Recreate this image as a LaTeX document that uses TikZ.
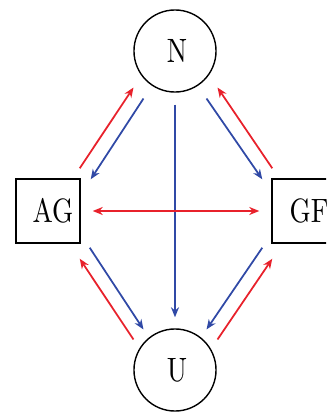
\documentclass[tikz,border=0pt]{standalone}
\usepackage{tikz}
\usetikzlibrary{arrows.meta}
\definecolor{fwd}{HTML}{3049A6}
\definecolor{back}{HTML}{E8212B}
\newcommand{\lbl}[1]{\scalebox{0.8}[1]{#1}}

\begin{document}
\begin{tikzpicture}[x=0.01cm,y=-0.01cm,
    state/.style={draw,circle,minimum size=0.82cm,inner sep=0pt,font=\fontsize{9.6}{12}\selectfont},
    agent/.style={draw,rectangle,minimum size=0.64cm,inner sep=0pt,font=\fontsize{9.6}{12}\selectfont},
    bluearr/.style={fwd,line width=0.5pt,-{Stealth[length=0.1cm,width=0.08cm]}},
    redarr/.style={back,line width=0.5pt,-{Stealth[length=0.1cm,width=0.08cm]}}]
  \useasboundingbox (0,0) rectangle (326,412);
  \clip (0,0) rectangle (326,412);

  % nodes
  \node[state] (n) at (175,51) {\hspace*{0.04cm}\lbl{N}};
  \node[state] (u) at (175,370) {\hspace*{0.04cm}\lbl{U}};
  \node[agent] (ag) at (48,211) {\hspace*{0.1cm}\lbl{AG}};
  \node[agent] (gf) at (304,211) {\hspace*{0.1cm}\lbl{GF}};

  % left upper pair
  \draw[redarr] ([shift={(-1,-10)}]ag.north east) -- ([shift={(-12,7)}]n.225);
  \draw[bluearr] ([shift={(-2,18)}]n.225) -- ([shift={(10,1)}]ag.north east);

  % right upper pair
  \draw[bluearr] ([shift={(2,18)}]n.315) -- ([shift={(-9,1)}]gf.north west);
  \draw[redarr] ([shift={(1,-10)}]gf.north west) -- ([shift={(13,7)}]n.315);

  % middle
  \draw[bluearr] ([shift={(0,12)}]n.south) -- ([shift={(0,-11)}]u.north);
  \draw[redarr,{Stealth[length=0.1cm,width=0.08cm]}-{Stealth[length=0.1cm,width=0.08cm]}]
    ([shift={(12,0)}]ag.east) -- ([shift={(-12,0)}]gf.west);

  % left lower pair
  \draw[bluearr] ([shift={(9,4)}]ag.south east) -- ([shift={(-2,-11)}]u.135);
  \draw[redarr] ([shift={(-12,-1)}]u.135) -- ([shift={(-1,15)}]ag.south east);

  % right lower pair
  \draw[bluearr] ([shift={(-9,4)}]gf.south west) -- ([shift={(2,-11)}]u.45);
  \draw[redarr] ([shift={(13,-1)}]u.45) -- ([shift={(1,15)}]gf.south west);
\end{tikzpicture}
\end{document}
